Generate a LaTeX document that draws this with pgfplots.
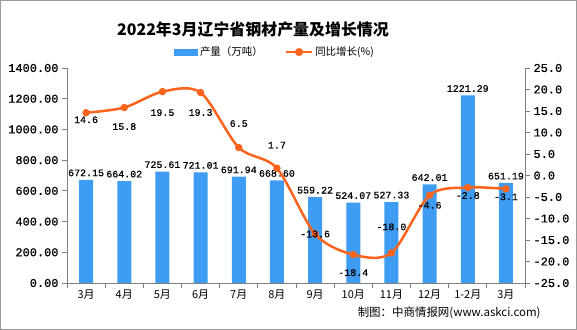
\documentclass[border=0pt]{standalone}
\usepackage{pgfplots}
\pgfplotsset{compat=1.18}
\usepackage{pgfplotstable}
\usepackage{fontspec}
\setmainfont{Noto Sans CJK SC}
\newfontfamily\cjk{Noto Sans CJK SC}
\newfontfamily\numfont{Liberation Mono}[RawFeature={embolden=0.8}]
\definecolor{barblue}{RGB}{62,157,242}
\definecolor{lineorange}{RGB}{252,100,30}
\definecolor{axisgray}{RGB}{128,128,128}

\pgfplotstableread{
x y lab
0 672.15 672.15
1 664.02 664.02
2 725.61 725.61
3 721.01 721.01
4 691.94 691.94
5 668.60 668.60
6 559.22 559.22
7 524.07 524.07
8 527.33 527.33
9 642.01 642.01
10 1221.29 1221.29
11 651.19 651.19
}\bardata

\pgfplotstableread{
x y lab dy
0 14.6 14.6 -7
1 15.8 15.8 -19
2 19.5 19.5 -21
3 19.3 19.3 -20
4 6.5 6.5 24
5 1.7 1.7 23
6 -13.6 -13.6 0
7 -18.4 -18.4 -18
8 -18.0 -18.0 26
9 -4.6 -4.6 -10
10 -2.8 -2.8 -8
11 -3.1 -3.1 -8
}\linedata

\begin{document}
\begin{tikzpicture}
\path[use as bounding box] (0,0) rectangle (577bp,330bp);
\draw[axisgray!80, line width=0.8bp] (0.4bp,0.4bp) rectangle (576.6bp,329.6bp);

\node[font=\cjk\bfseries\fontsize{16}{18}\selectfont] at (253bp,301bp) {2022年3月辽宁省钢材产量及增长情况};
\node[font=\cjk\fontsize{11.5}{13}\selectfont, anchor=east] at (544bp,17bp) {制图：中商情报网(www.askci.com)};

\begin{axis}[
  at={(67bp,47bp)}, anchor=south west,
  width=458bp, height=215bp, scale only axis,
  xmin=-0.5, xmax=11.5, ymin=0, ymax=1400,
  axis y line*=left, axis x line*=bottom,
  axis line style={draw=axisgray, line width=0.8bp},
  tick style={draw=axisgray, line width=0.8bp},
  tick align=outside, major tick length=5bp,
  clip=false,
  xtick={-0.5,0.5,1.5,2.5,3.5,4.5,5.5,6.5,7.5,8.5,9.5,10.5,11.5},
  xticklabels={},
  extra x ticks={0,1,2,3,4,5,6,7,8,9,10,11},
  extra x tick labels={3月,4月,5月,6月,7月,8月,9月,10月,11月,12月,1-2月,3月},
  extra x tick style={major tick length=0pt,
    xticklabel style={font=\cjk\fontsize{11}{12}\selectfont, yshift=-3bp}},
  ytick={0,200,...,1400},
  /pgf/number format/assume math mode=true,
  yticklabel style={font=\numfont\fontsize{12}{13}\selectfont,
    /pgf/number format/fixed, /pgf/number format/fixed zerofill,
    /pgf/number format/precision=2, /pgf/number format/1000 sep={}},
  legend style={at={(0.454,1.074)}, anchor=center, draw=none, fill=none,
    legend columns=2, font=\cjk\fontsize{10.5}{12}\selectfont,
    /tikz/every even column/.append style={column sep=20bp}},
]
\addplot[ybar, bar width=14bp, fill=barblue, draw=none,
  point meta=explicit symbolic,
  nodes near coords,
  every node near coord/.append style={font=\numfont\fontsize{10}{11}\selectfont, black, anchor=south, yshift=0bp},
  legend image code/.code={\fill[barblue] (0bp,-3.5bp) rectangle (24bp,3.5bp);}
] table[x=x, y=y, meta=lab] {\bardata};
\addlegendentry{产量（万吨）}
\addlegendimage{legend image code/.code={\draw[lineorange, line width=2.5bp] (0bp,0bp) -- (26bp,0bp); \fill[lineorange] (13bp,0bp) circle (3.8bp);}}
\addlegendentry{同比增长(\%)}
\end{axis}

\begin{axis}[
  at={(67bp,47bp)}, anchor=south west,
  width=458bp, height=215bp, scale only axis,
  xmin=-0.5, xmax=11.5, ymin=-25, ymax=25,
  axis y line*=right, axis x line=none,
  axis line style={draw=axisgray, line width=0.8bp},
  tick style={draw=axisgray, line width=0.8bp},
  tick align=outside, major tick length=5bp,
  clip=false,
  ytick={-25,-20,...,25},
  /pgf/number format/assume math mode=true,
  yticklabel style={font=\numfont\fontsize{12}{13}\selectfont,
    /pgf/number format/fixed, /pgf/number format/fixed zerofill,
    /pgf/number format/precision=1},
]
\addplot[lineorange, line width=2.5bp, smooth, mark=*,
  mark options={fill=lineorange, draw=lineorange, scale=1.2},
  point meta=explicit symbolic,
  visualization depends on={\thisrow{dy} \as \dy},
  nodes near coords,
  every node near coord/.append style={font=\numfont\fontsize{10}{11}\selectfont, black, anchor=center, yshift=\dy bp}
] table[x=x, y=y, meta=lab] {\linedata};
\end{axis}
\end{tikzpicture}
\end{document}
